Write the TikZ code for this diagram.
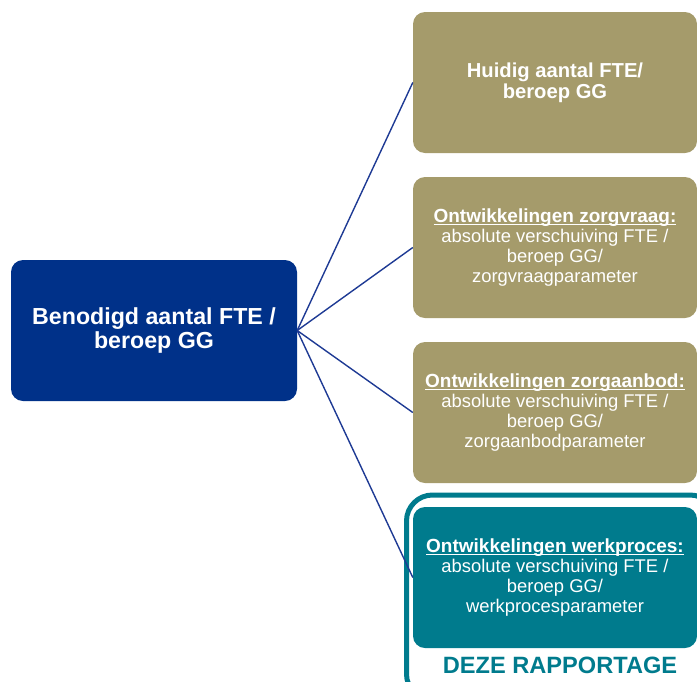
\documentclass[tikz,border=0pt]{standalone}
\usepackage{fontspec}
\setmainfont{Liberation Sans}
\definecolor{navy}{HTML}{003189}
\definecolor{khaki}{HTML}{A59B6B}
\definecolor{tealc}{HTML}{007B8D}
\definecolor{linec}{HTML}{1E3A94}
\newcommand{\headtxt}[1]{{\fontsize{19}{19.7}\selectfont\bfseries\underline{\raisebox{0pt}[\height][0pt]{#1}}}}
\begin{document}
\begin{tikzpicture}[x=1pt,y=-1pt,
  mainbox/.style={fill=navy, rounded corners=12pt, minimum width=286pt, minimum height=141pt, text=white, align=center, inner sep=0pt, font=\bfseries\fontsize{23.2}{24}\selectfont},
  khakibox/.style={fill=khaki, rounded corners=12pt, minimum width=284pt, minimum height=141pt, text=white, align=center, inner sep=0pt, font=\fontsize{18.4}{19.7}\selectfont},
  tealbox/.style={khakibox, fill=tealc},
  conn/.style={draw=linec, line width=1.4pt}]
\clip (0,0) rectangle (697,681);
\useasboundingbox (0,0) rectangle (697,681);
\node[mainbox] (main) at (154,330.5) {Benodigd aantal FTE /\\beroep GG};
\node[khakibox, font=\bfseries\fontsize{20.2}{21}\selectfont] (b1) at (555,82.5) {Huidig aantal FTE/\\beroep GG};
\node[khakibox] (b2) at (555,247.5) {\headtxt{Ontwikkelingen zorgvraag:}\\absolute verschuiving FTE /\\beroep GG/\\zorgvraagparameter};
\node[khakibox] (b3) at (555,412.5) {\headtxt{Ontwikkelingen zorgaanbod:}\\absolute verschuiving FTE /\\beroep GG/\\zorgaanbodparameter};
\draw[tealc, line width=5pt, rounded corners=26pt] (406.5,495) rectangle (716,700);
\node[tealbox] (b4) at (555,577.5) {\headtxt{Ontwikkelingen werkproces:}\\absolute verschuiving FTE /\\beroep GG/\\werkprocesparameter};
\node[anchor=base, text=tealc, font=\bfseries\fontsize{23.6}{24}\selectfont, inner sep=0pt] (lbl) at (560,673) {DEZE RAPPORTAGE};
\draw[conn] (main.east) -- (b1.west);
\draw[conn] (main.east) -- (b2.west);
\draw[conn] (main.east) -- (b3.west);
\draw[conn] (main.east) -- (b4.west);
\end{tikzpicture}
\end{document}
